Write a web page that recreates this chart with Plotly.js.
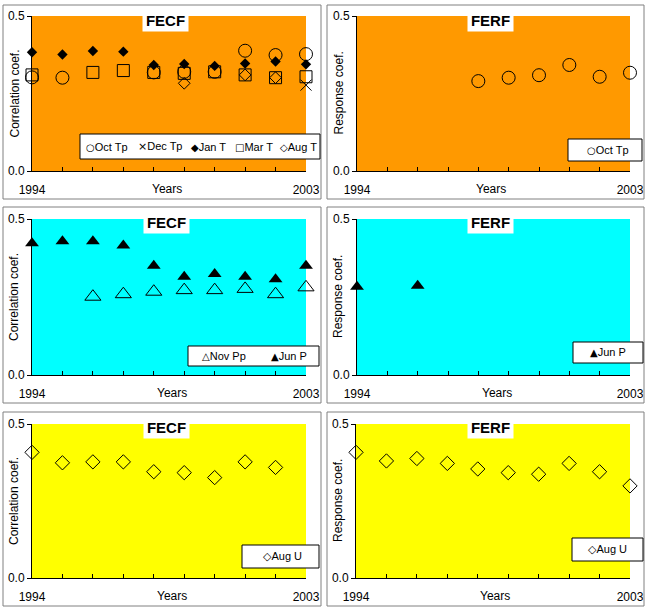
<!DOCTYPE html>
<html><head><meta charset="utf-8">
<script src="https://cdn.plot.ly/plotly-3.0.1.min.js"></script>
<style>html,body{margin:0;padding:0;background:#fff}</style>
</head><body><div id="chart" style="width:650px;height:612px"></div>
<script>
// ---------- data ----------
const years = [1994, 1995, 1996, 1997, 1998, 1999, 2000, 2001, 2002, 2003];
const xTickText = ['1994', '', '', '', '', '', '', '', '', '2003'];
const yTickVals = [0, 0.5];
const yTickText = ['0.0', '0.5'];
const panelTitles = ['FECF', 'FERF', 'FECF', 'FERF', 'FECF', 'FERF'];
const yTitles = ['Correlation coef.', 'Response coef.', 'Correlation coef.', 'Response coef.', 'Correlation coef.', 'Response coef.'];
const xTitle = 'Years';

// temperature panel (top)
const fecfOctTp = [0.302, 0.301, null, null, 0.318, 0.320, 0.320, 0.388, 0.374, 0.377];
const fecfDecTp = [null, null, null, null, null, null, null, null, null, 0.277];
const fecfJanT  = [0.383, 0.376, 0.387, 0.385, 0.342, 0.345, 0.339, 0.347, 0.353, 0.344];
const fecfMarT  = [0.310, null, 0.318, 0.324, 0.318, 0.315, 0.320, 0.310, 0.301, 0.304];
const fecfAugT  = [null, null, null, null, null, 0.283, null, 0.310, 0.301, null];
const ferfOctTp = [null, null, null, null, 0.290, 0.301, 0.309, 0.342, 0.304, 0.317];

// precipitation panel (middle)
const fecfNovPp = [null, null, 0.251, 0.259, 0.267, 0.272, 0.272, 0.276, 0.259, 0.281];
const fecfJunP  = [0.422, 0.429, 0.429, 0.415, 0.350, 0.315, 0.324, 0.315, 0.307, 0.350];
const ferfJunP  = [0.283, null, 0.286, null, null, null, null, null, null, null];

// panel (bottom)
const fecfAugU  = [0.408, 0.374, 0.377, 0.377, 0.345, 0.342, 0.326, 0.377, 0.359, null];
const ferfAugU  = [0.408, 0.380, 0.388, 0.372, 0.354, 0.342, 0.337, 0.372, 0.345, 0.299];

// ---------- layout helpers ----------
const W = 650, H = 612;
const fx = v => v / W;
const fy = v => 1 - v / H;
const FONT = 'Liberation Sans, Arial, sans-serif';
const SYMF = 'DejaVu Sans';

const panels = [
  {box:[3,5,321,199],   plot:[32,16,306,171],  bg:'#FF9900', titleX:165.5, titleY:19.5,  ytX:14,  yearsX:167, yearsY:189,
   legBox:[80,134,320,159], legY:146.5,
   series:[
     {name:'Oct Tp', y:fecfOctTp, sym:'circle-open', size:13, ch:'○', chs:10, lx:84},
     {name:'Dec Tp', y:fecfDecTp, sym:'x-thin-open', size:11, ch:'×', chs:11, lx:136},
     {name:'Jan T',  y:fecfJanT,  sym:'diamond', size:8, ch:'◆', chs:10, lx:189},
     {name:'Mar T',  y:fecfMarT,  sym:'square-open', size:12, ch:'□', chs:10, lx:233},
     {name:'Aug T',  y:fecfAugT,  sym:'diamond-open', size:9, ch:'◇', chs:10, lx:278}
   ]},
  {box:[327,5,644,199], plot:[357,16,630,171], bg:'#FF9900', titleX:490.5, titleY:19.5, ytX:338, yearsX:491, yearsY:189,
   legBox:[568,139,642,161], legY:150,
   series:[
     {name:'Oct Tp', y:ferfOctTp, sym:'circle-open', size:13, ch:'○', chs:10, lx:585}
   ]},
  {box:[3,207,321,403], plot:[32,219,306,375], bg:'#00FFFF', titleX:166, titleY:221.5, ytX:14, yearsX:172, yearsY:392.7,
   legBox:[188,346,319,366], legY:356,
   series:[
     {name:'Nov Pp', y:fecfNovPp, sym:'triangle-up-open', size:14, ch:'△', chs:10, lx:200},
     {name:'Jun P',  y:fecfJunP,  sym:'triangle-up', size:12, ch:'▲', chs:10, lx:269}
   ]},
  {box:[327,207,644,403], plot:[357,219,630,375], bg:'#00FFFF', titleX:490.5, titleY:221.5, ytX:338, yearsX:497, yearsY:392.7,
   legBox:[573,342,643,363], legY:352.5,
   series:[
     {name:'Jun P', y:ferfJunP, sym:'triangle-up', size:12, ch:'▲', chs:10, lx:588}
   ]},
  {box:[3,412,321,606], plot:[32,424,306,578], bg:'#FFFF00', titleX:166, titleY:426.5, ytX:14, yearsX:172, yearsY:596,
   legBox:[242,545,319,568], legY:556.5,
   series:[
     {name:'Aug U', y:fecfAugU, sym:'diamond-open', size:11, ch:'◇', chs:11, lx:261}
   ]},
  {box:[327,412,644,606], plot:[356,424,630,578], bg:'#FFFF00', titleX:490.5, titleY:426.5, ytX:338, yearsX:495, yearsY:596,
   legBox:[572,538,643,561], legY:549.5,
   series:[
     {name:'Aug U', y:ferfAugU, sym:'diamond-open', size:11, ch:'◇', chs:11, lx:586}
   ]}
];

const data = [];
const layout = {
  width: W, height: H,
  margin: {l:0, r:0, t:0, b:0, pad:0},
  paper_bgcolor: '#ffffff',
  plot_bgcolor: 'rgba(0,0,0,0)',
  showlegend: false,
  font: {family: FONT, size: 12, color: '#000'},
  shapes: [], annotations: []
};

panels.forEach((p, i) => {
  const n = i === 0 ? '' : String(i + 1);
  const xa = 'xaxis' + n, ya = 'yaxis' + n;
  const xr = 'x' + n, yr = 'y' + n;
  layout[xa] = {
    domain: [fx(p.plot[0]), fx(p.plot[2])],
    anchor: yr, range: [1994, 2003],
    tickmode: 'array', tickvals: years, ticktext: xTickText,
    ticks: 'inside', ticklen: 4, tickcolor: '#000', tickwidth: 1,
    ticklabelstandoff: 8,
    showline: true, linecolor: '#000', linewidth: 1,
    showgrid: false, zeroline: false, fixedrange: true,
    tickfont: {family: FONT, size: 12, color: '#000'}
  };
  layout[ya] = {
    domain: [fy(p.plot[3]), fy(p.plot[1])],
    anchor: xr, range: [0, 0.5],
    tickmode: 'array', tickvals: yTickVals, ticktext: yTickText,
    ticks: 'outside', ticklen: 4, tickcolor: '#000', tickwidth: 1,
    showline: true, linecolor: '#000', linewidth: 1,
    showgrid: false, zeroline: false, fixedrange: true,
    tickfont: {family: FONT, size: 12, color: '#000'}
  };
  // plot background
  layout.shapes.push({type:'rect', xref: xr + ' domain', yref: yr + ' domain', x0:0, x1:1, y0:0, y1:1,
    fillcolor: p.bg, line:{width:0}, layer:'below'});
  // panel border
  layout.shapes.push({type:'rect', xref:'paper', yref:'paper',
    x0: fx(p.box[0]), x1: fx(p.box[2]), y0: fy(p.box[3]), y1: fy(p.box[1]),
    line:{color:'#808080', width:1}, fillcolor:'rgba(0,0,0,0)', layer:'above'});
  // legend box
  layout.shapes.push({type:'rect', xref:'paper', yref:'paper',
    x0: fx(p.legBox[0]), x1: fx(p.legBox[2]), y0: fy(p.legBox[3]), y1: fy(p.legBox[1]),
    line:{color:'#000', width:1}, fillcolor:'#ffffff', layer:'above'});
  // title
  layout.annotations.push({xref:'paper', yref:'paper', x: fx(p.titleX), y: fy(p.titleY),
    xanchor:'center', yanchor:'middle', showarrow:false,
    text: '<b>' + panelTitles[i] + '</b>', font:{family: FONT, size:15, color:'#000'},
    bgcolor:'#ffffff', width:41, height:18, borderpad:2});
  // y title
  layout.annotations.push({xref:'paper', yref:'paper', x: fx(p.ytX), y: fy((p.plot[1] + p.plot[3]) / 2),
    xanchor:'center', yanchor:'middle', showarrow:false, textangle:-90,
    text: yTitles[i], font:{family: FONT, size:12, color:'#000'}});
  // x title
  layout.annotations.push({xref:'paper', yref:'paper', x: fx(p.yearsX), y: fy(p.yearsY),
    xanchor:'center', yanchor:'middle', showarrow:false,
    text: xTitle, font:{family: FONT, size:12, color:'#000'}});

  p.series.forEach(s => {
    const filled = !s.sym.endsWith('-open');
    data.push({
      type:'scatter', mode:'markers', name: s.name,
      x: years, y: s.y, xaxis: xr, yaxis: yr, cliponaxis:false,
      hoverinfo:'x+y+name',
      marker:{symbol: s.sym, size: s.size, color:'#000',
        line:{color:'#000', width: filled ? 0 : 1}}
    });
    layout.annotations.push({xref:'paper', yref:'paper', x: fx(s.lx), y: fy(p.legY),
      xanchor:'left', yanchor:'middle', showarrow:false,
      text: '<span style="font-family:' + SYMF + ';font-size:' + s.chs + 'px">' + s.ch + '</span>' + s.name,
      font:{family: FONT, size:11, color:'#000'}});
  });
});

Plotly.newPlot('chart', data, layout, {displayModeBar:false, staticPlot:true});
</script>
</body></html>
